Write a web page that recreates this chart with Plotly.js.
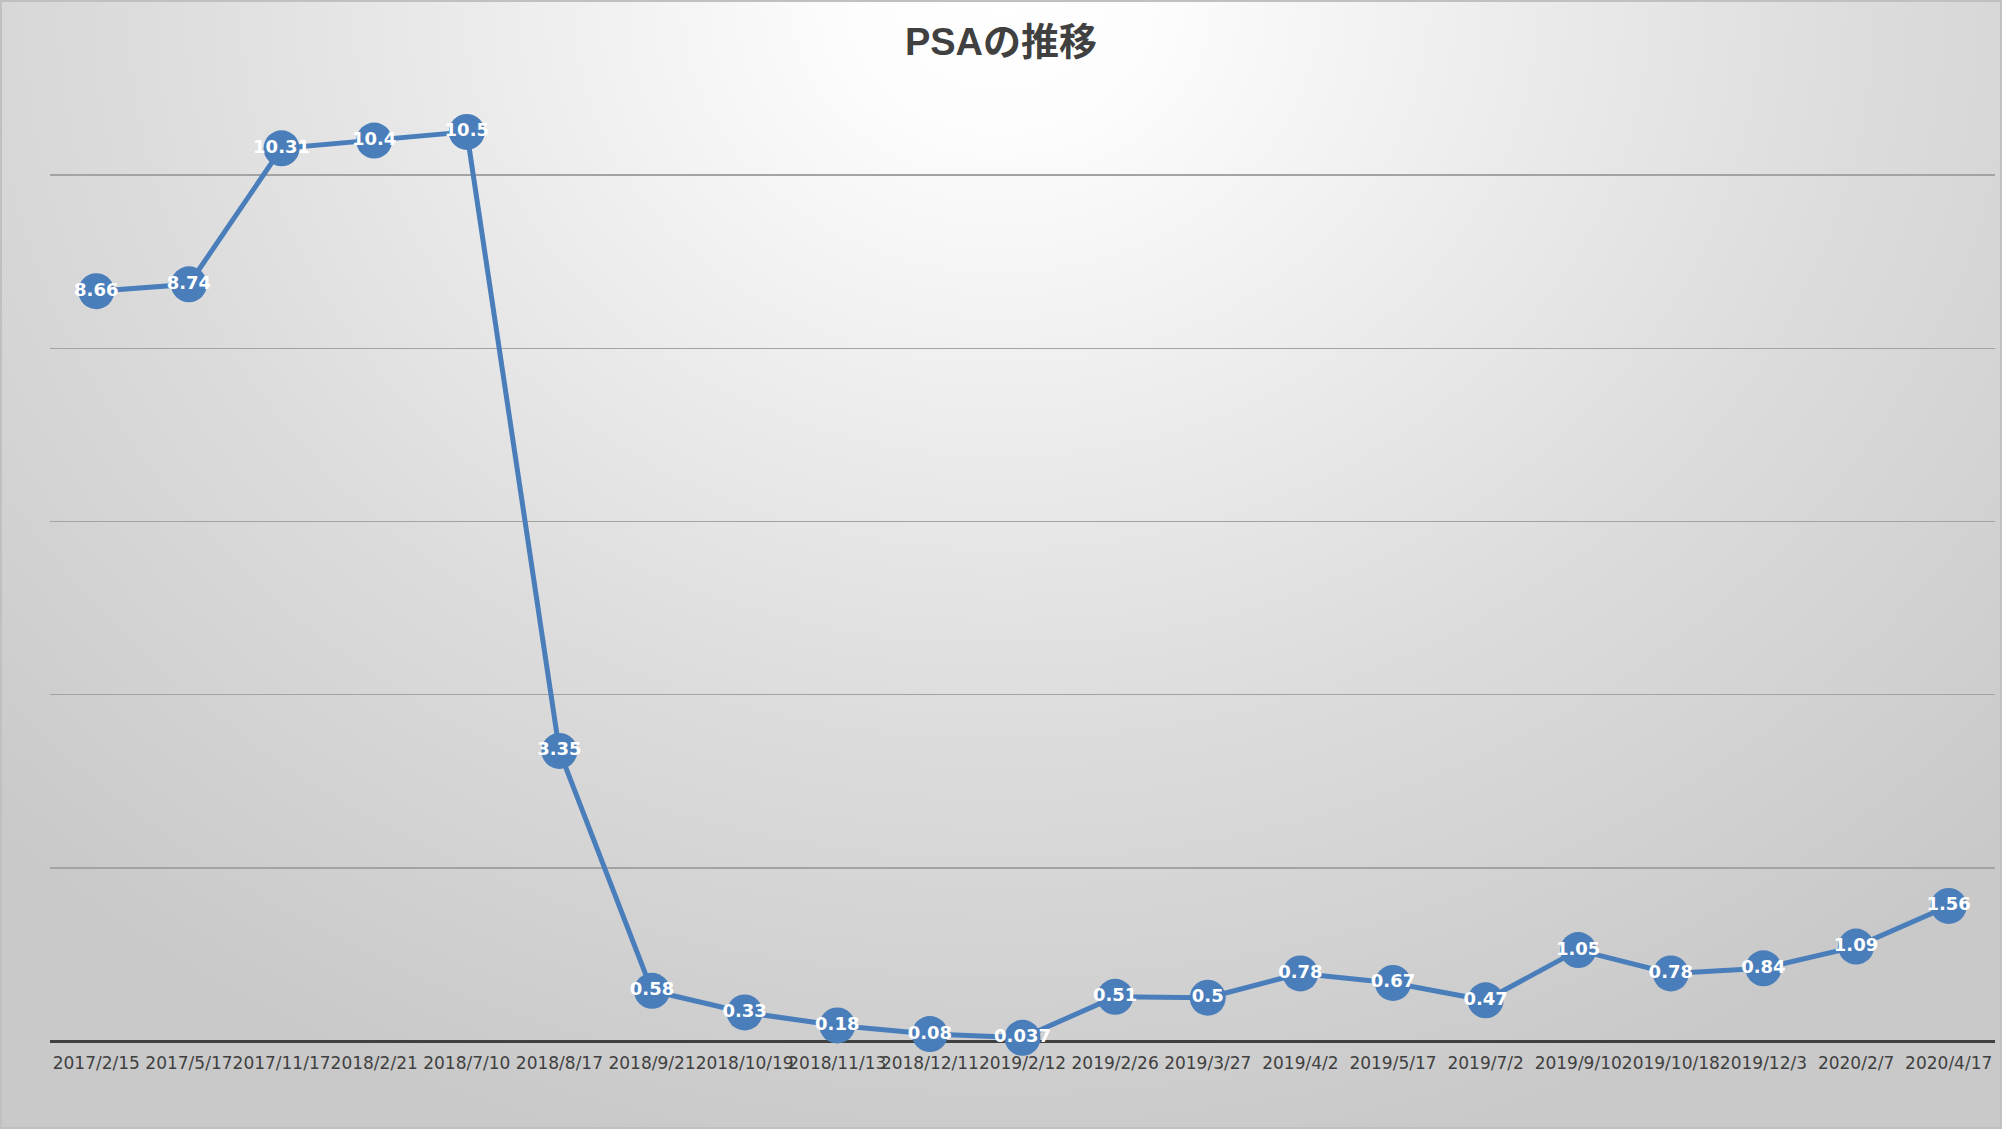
<!DOCTYPE html>
<html>
<head>
<meta charset="utf-8">
<script src="https://cdn.plot.ly/plotly-3.0.1.min.js"></script>
<style>
	html, body { margin:0; padding:0; }
	#chart {
		width:2002px; height:1129px; box-sizing:border-box;
		border:2px solid #c0c0c0;
		background: radial-gradient(ellipse 70% 105% at 50% 0%, #ffffff 0%, #fdfdfd 10%, #ebebeb 38%, #dcdcdc 62%, #c9c9c9 100%);
	}
</style>
</head>
<body>
<div id="chart"></div>
<script>
var dates = ["2017/2/15", "2017/5/17", "2017/11/17", "2018/2/21", "2018/7/10", "2018/8/17",
	"2018/9/21", "2018/10/19", "2018/11/13", "2018/12/11", "2019/2/12", "2019/2/26",
	"2019/3/27", "2019/4/2", "2019/5/17", "2019/7/2", "2019/9/10", "2019/10/18",
	"2019/12/3", "2020/2/7", "2020/4/17"];
var psa = [8.66, 8.74, 10.31, 10.4, 10.5, 3.35, 0.58, 0.33, 0.18, 0.08, 0.037, 0.51,
	0.5, 0.78, 0.67, 0.47, 1.05, 0.78, 0.84, 1.09, 1.56];
var yTicks = [0, 2, 4, 6, 8, 10, 12];

var narrow = "DejaVu Sans, sans-serif";

var trace = {
	x: dates,
	y: psa,
	type: "scatter",
	mode: "lines+markers+text",
	text: psa.map(String),
	textposition: "middle center",
	textfont: { family: narrow, size: 18, color: "#ffffff", weight: "bold", stretch: "condensed" },
	line: { color: "#4a7ebb", width: 5 },
	marker: { color: "#4a7ebb", size: 36 },
	cliponaxis: false,
	hoverinfo: "x+y"
};

var layout = {
	width: 1998,
	height: 1125,
	margin: { l: 48, r: 5, t: 0, b: 86 },
	paper_bgcolor: "rgba(0,0,0,0)",
	plot_bgcolor: "rgba(0,0,0,0)",
	showlegend: false,
	title: {
		text: "PSAの推移",
		font: { family: "Liberation Sans, Noto Sans CJK JP, sans-serif", size: 38, color: "#404040", weight: "bold" },
		x: 0.5, xanchor: "center",
		y: 0.965, yanchor: "middle",
		yref: "container"
	},
	xaxis: {
		type: "category",
		range: [-0.5, dates.length - 0.5],
		showgrid: false,
		zeroline: false,
		showline: false,
		ticks: "",
		tickangle: 0,
		ticklabelstandoff: 10,
		tickfont: { family: narrow, size: 17, color: "#404040", stretch: "condensed" },
		fixedrange: true
	},
	yaxis: {
		range: [0, 12],
		tickvals: yTicks,
		showticklabels: false,
		showgrid: true,
		gridcolor: "#a3a3a3",
		gridwidth: 1.5,
		zeroline: true,
		zerolinecolor: "#404040",
		zerolinewidth: 3,
		showline: false,
		ticks: "",
		fixedrange: true
	}
};

Plotly.newPlot("chart", [trace], layout, { displayModeBar: false, staticPlot: true });
</script>
</body>
</html>
